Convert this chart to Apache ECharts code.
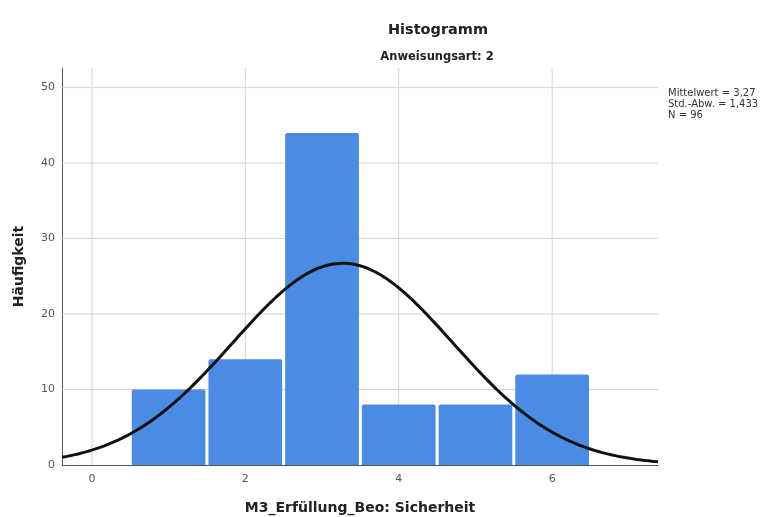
<!DOCTYPE html>
<html>
<head>
<meta charset="utf-8">
<script src="https://cdn.jsdelivr.net/npm/echarts@6/dist/echarts.min.js"></script>
<style>
  html, body { margin: 0; padding: 0; background: #fff; }
  #chart { width: 774px; height: 517px; }
</style>
</head>
<body>
<div id="chart"></div>
<script>
// Histogram bins (centre of each unit-wide bin) and their frequencies
const binCenters = [1, 2, 3, 4, 5, 6];
const counts = [10, 14, 44, 8, 8, 12];

// Summary statistics shown beside the plot
const statMean = 3.27;
const statSd = 1.433;
const statN = 96;

// Axis ticks / gridlines
const xTicks = [0, 2, 4, 6];
const yTicks = [0, 10, 20, 30, 40, 50];
const xRange = [-0.39, 7.38];
const yRange = [0, 52.6];

// Fitted normal curve scaled to the histogram (bin width 1)
const curve = [];
for (let i = 0; i <= 200; i++) {
  const x = xRange[0] + (xRange[1] - xRange[0]) * i / 200;
  const z = (x - statMean) / statSd;
  const y = statN / (statSd * Math.sqrt(2 * Math.PI)) * Math.exp(-0.5 * z * z);
  curve.push([x, y]);
}

const bars = binCenters.map((c, i) => [c - 0.5, c + 0.5, counts[i]]);

const fmt = v => v.toString().replace('.', ',');

const chart = echarts.init(document.getElementById('chart'));
const font = 'DejaVu Sans';

chart.setOption({
  animation: false,
  textStyle: { fontFamily: font },
  grid: { left: 62, right: 116, top: 68, bottom: 52, containLabel: false, outerBoundsMode: 'none' },
  title: [
    { text: 'Histogramm', left: 438, top: 23, padding: 0, textAlign: 'center',
      textStyle: { fontSize: 14.5, fontWeight: 'bold', color: '#222', fontFamily: font } },
    { text: 'Anweisungsart: 2', left: 437, top: 51, padding: 0, textAlign: 'center',
      textStyle: { fontSize: 11.5, fontWeight: 'bold', color: '#222', fontFamily: font } },
    { text: 'Mittelwert = ' + fmt(statMean) + '\nStd.-Abw. = ' + fmt(statSd) + '\nN = ' + statN,
      left: 668, top: 88, padding: 0,
      textStyle: { fontSize: 10, fontWeight: 'normal', color: '#333', lineHeight: 11, fontFamily: font } }
  ],
  xAxis: {
    type: 'value', min: xRange[0], max: xRange[1],
    name: 'M3_Erfüllung_Beo: Sicherheit', nameLocation: 'middle', nameGap: 36,
    nameTextStyle: { fontSize: 14, fontWeight: 'bold', color: '#222' },
    axisLine: { show: true, onZero: false, lineStyle: { color: '#555', width: 1 } },
    axisTick: { show: false },
    axisLabel: { customValues: xTicks, color: '#555', fontSize: 11, margin: 9 },
    splitLine: { show: false }
  },
  yAxis: {
    type: 'value', min: yRange[0], max: yRange[1],
    name: 'Häufigkeit', nameLocation: 'middle', nameGap: 36, nameRotate: 90,
    nameTextStyle: { fontSize: 14, fontWeight: 'bold', color: '#222' },
    axisLine: { show: true, onZero: false, lineStyle: { color: '#555', width: 1 } },
    axisTick: { show: false },
    axisLabel: { customValues: yTicks, color: '#555', fontSize: 11, margin: 7 },
    splitLine: { show: false }
  },
  series: [
    {
      // vertical gridlines
      type: 'custom', z: 1, silent: true,
      data: xTicks,
      renderItem: (params, api) => {
        const a = api.coord([api.value(0), yRange[0]]);
        const b = api.coord([api.value(0), yRange[1]]);
        return { type: 'line', shape: { x1: a[0], y1: a[1], x2: b[0], y2: b[1] },
          style: { stroke: '#d3d3d3', lineWidth: 1 } };
      }
    },
    {
      // horizontal gridlines
      type: 'custom', z: 1, silent: true,
      data: yTicks.slice(1),
      renderItem: (params, api) => {
        const a = api.coord([xRange[0], api.value(0)]);
        const b = api.coord([xRange[1], api.value(0)]);
        return { type: 'line', shape: { x1: a[0], y1: a[1], x2: b[0], y2: b[1] },
          style: { stroke: '#d3d3d3', lineWidth: 1 } };
      }
    },
    {
      // histogram bars
      type: 'custom', z: 2,
      data: bars,
      encode: { x: [0, 1], y: 2 },
      renderItem: (params, api) => {
        const p0 = api.coord([api.value(0), api.value(2)]);
        const p1 = api.coord([api.value(1), 0]);
        const gap = 1.5;
        return { type: 'rect',
          shape: { x: p0[0] + gap, y: p0[1], width: p1[0] - p0[0] - 2 * gap, height: p1[1] - p0[1], r: [2, 2, 0, 0] },
          style: { fill: '#4a8be3' } };
      }
    },
    {
      // normal curve
      type: 'line', z: 3, data: curve, showSymbol: false, smooth: false,
      lineStyle: { color: '#111', width: 3 }
    }
  ]
});
</script>
</body>
</html>
